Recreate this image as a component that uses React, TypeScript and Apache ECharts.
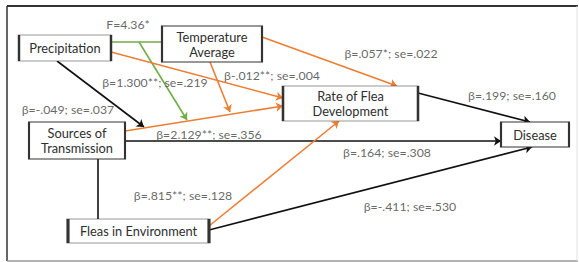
import React, { useEffect, useRef } from "react";
import * as echarts from "echarts";

// Boxes: label, x0, y0, x1, y1 (diagram layout units = pixels of the figure)
const boxNames = ["Precipitation", "Temperature\nAverage", "Rate of Flea\nDevelopment", "Disease", "Sources of\nTransmission", "Fleas in Environment"];
const boxRects = [
  [19, 35, 111, 61],
  [162, 26, 262, 62],
  [283, 86, 418, 121],
  [501, 122, 569, 147],
  [29, 122, 125, 159],
  [68, 219, 209, 243],
];

// Paths with arrowheads: [from, to, colour key]
const arrowPaths = [
  [[139, 42], [187, 120], "green"],
  [[57, 61], [144, 127], "black"],
  [[111, 52], [283, 98], "orange"],
  [[210, 62], [230, 112], "orange"],
  [[125, 131], [283, 106], "orange"],
  [[262, 37], [397, 86], "orange"],
  [[418, 93], [530, 122], "black"],
  [[125, 141], [501, 141], "black"],
  [[209, 226], [339, 121], "orange"],
  [[209, 230], [532, 147], "black"],
];
// Plain connectors
const plainPaths = [
  [[111, 42], [162, 42], "green"],
  [[98, 159], [98, 219], "black"],
];

// Coefficient labels: text, x, y
const coefTexts = ["F=4.36*", "β=1.300**; se=.219", "β-.012**; se=.004", "β=.057*; se=.022", "β=-.049; se=.037", "β=.199; se=.160", "β=2.129**; se=.356", "β=.164; se=.308", "β=.815**; se=.128", "β=-.411; se=.530"];
const coefPos = [
  [128, 24], [155, 82], [272, 75], [391, 53], [68, 109], [512, 95], [209, 134], [387, 152], [183, 195], [410, 206],
];

const colours: Record<string, string> = { green: "#70AD47", orange: "#ED7D31", black: "#111111" };
const FONT = "Lato, 'Open Sans', sans-serif";

export default function App() {
  const ref = useRef<HTMLDivElement>(null);
  useEffect(() => {
    if (!ref.current) return;
    const chart = echarts.init(ref.current, undefined, { renderer: "svg" });
    const toLine = (p: any) => ({ coords: [p[0], p[1]], lineStyle: { color: colours[p[2]] } });
    chart.setOption({
      animation: false,
      backgroundColor: "#ffffff",
      grid: { left: 0, right: 0, top: 0, bottom: 0 },
      xAxis: { type: "value", min: 0, max: 579, show: false },
      yAxis: { type: "value", min: 0, max: 262, inverse: true, show: false },
      graphic: [
        { type: "line", shape: { x1: 7, y1: 6, x2: 578, y2: 6 }, style: { stroke: "#333", lineWidth: 2 } },
        { type: "line", shape: { x1: 7, y1: 6, x2: 7, y2: 261 }, style: { stroke: "#333", lineWidth: 1.5 } },
        { type: "line", shape: { x1: 7, y1: 261, x2: 578, y2: 261 }, style: { stroke: "#999", lineWidth: 1.5 } },
        { type: "line", shape: { x1: 577, y1: 6, x2: 577, y2: 261 }, style: { stroke: "#e0e0e0", lineWidth: 1 } },
      ],
      series: [
        {
          type: "lines",
          coordinateSystem: "cartesian2d",
          symbol: ["none", "arrow"],
          symbolSize: 7,
          lineStyle: { width: 1.6, opacity: 1 },
          data: arrowPaths.map(toLine),
          z: 2,
        },
        {
          type: "lines",
          coordinateSystem: "cartesian2d",
          symbol: ["none", "none"],
          lineStyle: { width: 1.6, opacity: 1 },
          data: plainPaths.map(toLine),
          z: 2,
        },
        {
          type: "scatter",
          z: 3,
          data: boxRects.map((r, i) => ({
            value: [(r[0] + r[2]) / 2, (r[1] + r[3]) / 2],
            symbolSize: [r[2] - r[0], r[3] - r[1]],
            label: { formatter: boxNames[i] },
          })),
          symbol: "rect",
          itemStyle: { color: "#ffffff", borderColor: "#333333", borderWidth: 1.3, opacity: 1 },
          label: { show: true, position: "inside", color: "#2e2e2e", fontFamily: FONT, fontSize: 12.8, lineHeight: 15 },
          emphasis: { disabled: true },
          silent: true,
        },
        {
          type: "scatter",
          z: 4,
          symbolSize: 0,
          data: coefPos.map((p, i) => ({ value: p, label: { formatter: coefTexts[i] } })),
          label: { show: true, position: "inside", color: "#404040", fontFamily: FONT, fontSize: 12.3 },
          emphasis: { disabled: true },
          silent: true,
        },
      ],
    });
    return () => chart.dispose();
  }, []);
  return <div ref={ref} style={{ position: "fixed", left: 0, top: 0, width: 579, height: 262 }} />;
}
